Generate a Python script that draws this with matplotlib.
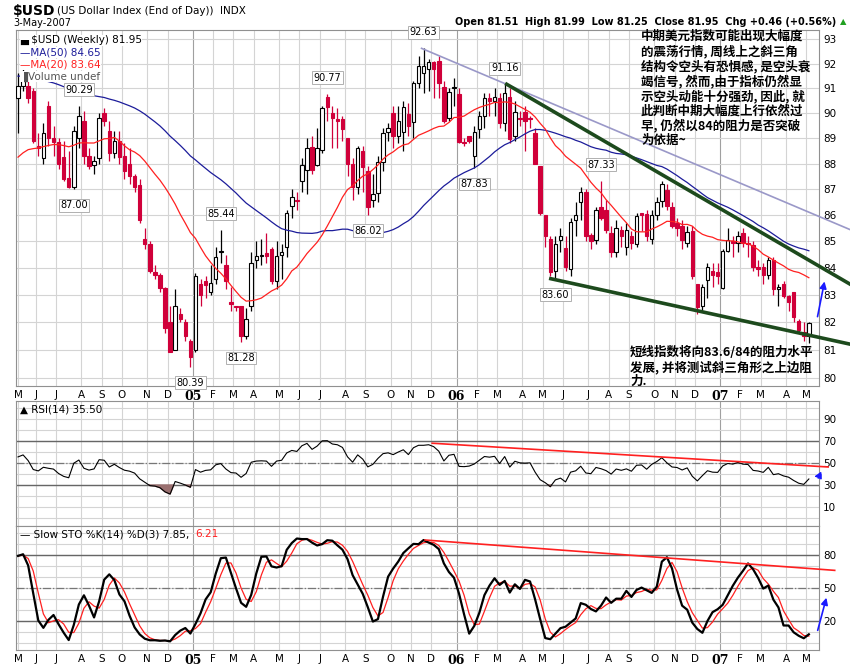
import numpy as np
import pandas as pd
import matplotlib
matplotlib.use("Agg")
import matplotlib.pyplot as plt
from matplotlib.ticker import NullLocator

W, H = 850, 668

# weekly candles, 3 years ending 3-May-2007
dates = pd.date_range(end="2007-05-04", periods=157, freq="W-FRI")

op = [90.6,91.1,91.1,90.9,88.7,88.2,90.3,89.0,88.85,88.25,
      87.45,87.1,89.0,89.7,88.3,87.95,88.2,90.0,89.3,88.4,
      88.9,88.3,88.0,87.5,87.15,85.1,84.9,83.85,83.75,83.25,
      82.0,81.0,82.3,82.0,81.3,81.0,83.4,83.5,83.1,83.6,
      84.6,84.1,82.75,82.6,82.6,81.5,82.6,84.3,84.45,84.55,
      84.7,83.5,84.5,84.8,86.35,86.6,87.3,87.75,88.65,87.95,
      88.55,90.65,90.0,89.75,89.75,89.0,88.0,87.1,88.5,87.7,
      86.6,86.85,88.05,89.25,90.0,89.1,89.25,89.95,89.65,91.2,
      91.6,91.8,92.05,92.1,91.05,89.8,91.0,90.75,88.85,89.1,
      88.3,89.35,89.9,90.6,90.5,90.6,89.6,90.65,89.1,89.8,
      90.05,89.8,89.2,87.9,86.0,85.1,83.9,85.05,84.75,83.95,
      85.8,86.5,86.9,85.25,85.05,86.3,86.2,85.3,84.6,85.45,
      84.8,85.2,84.9,86.1,86.05,85.1,86.0,86.55,86.95,86.3,
      85.7,85.6,84.95,85.4,83.4,82.6,83.55,83.9,83.85,83.25,
      84.65,85.0,84.95,85.3,84.95,84.85,84.05,84.05,83.75,84.3,
      83.2,83.4,82.95,83.1,82.05,81.65,81.51]
cl = [91.1,91.5,90.6,88.9,88.6,89.2,89.0,88.85,88.0,87.4,
      87.1,89.3,89.9,88.3,87.9,88.1,89.8,89.7,88.4,88.9,
      88.25,87.7,87.5,87.1,85.8,84.9,83.9,83.75,83.25,81.8,
      80.9,82.6,82.1,81.5,80.75,83.7,83.0,83.35,83.45,84.4,
      84.65,83.5,82.65,82.55,81.5,82.1,84.2,84.45,84.5,84.45,
      83.5,84.45,84.6,86.1,86.7,86.55,87.95,88.6,87.75,88.6,
      90.2,90.25,89.8,89.7,89.35,88.0,87.1,88.6,87.85,86.3,
      86.8,88.05,89.2,89.4,89.1,89.7,90.25,89.5,91.2,91.9,
      91.9,92.05,91.8,91.2,89.7,90.85,91.05,88.85,88.8,88.9,
      89.25,89.9,90.6,90.5,90.65,89.6,90.8,88.95,90.05,89.75,
      89.7,89.75,88.0,86.1,85.2,83.85,84.9,85.2,84.05,85.75,
      86.0,86.9,85.2,85.0,86.2,85.9,85.45,84.6,85.5,85.2,
      85.45,84.95,85.95,86.0,85.2,86.0,86.5,87.2,86.35,85.6,
      85.5,85.05,85.35,83.7,82.55,83.3,84.05,83.75,83.7,84.65,
      85.05,84.95,85.2,84.95,84.9,84.05,83.95,83.75,84.3,83.2,
      83.3,82.95,82.75,82.2,81.7,81.49,81.95]
hi = [91.6,92.0,91.3,91.0,89.2,89.6,90.5,89.5,89.0,88.9,
      88.5,89.5,90.29,90.1,88.6,88.3,90.0,90.2,89.7,89.3,
      89.3,88.8,88.6,87.6,87.4,85.5,85.0,84.1,83.8,83.3,
      82.6,83.2,82.5,82.1,81.4,83.8,83.6,83.7,84.1,84.8,
      85.44,84.5,83.3,82.6,82.6,82.5,84.6,85.0,85.1,85.3,
      84.8,85.0,84.9,86.2,87.0,86.9,88.2,89.0,89.1,89.4,
      90.3,90.77,90.3,90.2,89.9,89.0,88.2,88.7,88.7,87.9,
      87.6,88.3,89.4,89.6,90.3,90.3,90.5,90.4,91.3,92.3,
      92.63,92.2,92.1,92.3,91.3,91.0,91.4,91.0,89.0,89.1,
      89.5,90.1,90.8,90.8,91.0,90.8,91.16,91.0,90.5,90.1,
      90.3,89.9,89.4,87.9,86.0,85.2,85.2,85.5,85.2,85.9,
      86.5,87.1,87.0,85.3,86.3,87.33,86.6,85.6,85.8,85.6,
      85.7,85.4,86.1,86.1,86.2,86.2,86.7,87.3,87.2,86.5,
      85.9,85.8,85.6,85.6,83.4,83.4,84.2,84.2,84.2,84.7,
      85.5,85.2,85.4,85.5,85.2,85.0,84.3,84.2,84.4,84.4,
      83.4,83.5,83.0,83.1,82.1,82.0,81.99]
lo = [89.2,90.9,90.4,88.8,88.3,88.0,88.7,88.3,87.8,87.3,
      87.05,87.0,88.6,88.0,87.8,87.6,88.0,89.5,88.1,88.2,
      88.0,87.4,87.2,86.9,85.7,84.7,83.8,83.6,83.1,81.6,
      80.9,81.0,82.0,81.3,80.39,80.9,82.6,82.9,83.0,83.4,
      84.2,83.2,82.4,82.4,81.28,81.4,82.4,84.0,84.1,84.2,
      83.4,83.2,83.6,84.4,85.9,86.2,86.9,86.8,87.6,87.9,
      88.4,89.7,88.6,88.6,88.9,87.5,86.6,86.8,86.9,86.02,
      86.3,86.5,87.7,88.9,88.6,88.8,88.5,89.1,89.0,91.0,
      90.8,90.9,90.6,90.6,89.6,89.7,90.3,88.8,88.7,88.8,
      87.83,89.0,89.4,89.9,89.9,89.4,89.3,88.8,88.9,89.5,
      88.5,89.4,88.0,86.0,84.8,83.7,83.6,84.6,83.9,83.7,
      85.2,85.8,85.0,84.7,84.9,85.8,85.3,84.4,84.4,84.8,
      84.5,84.7,84.8,85.4,85.0,84.9,85.8,86.3,86.2,85.5,
      85.2,84.7,84.8,83.6,82.3,82.4,82.9,83.3,83.4,83.2,
      84.6,84.4,84.6,84.8,84.4,83.9,83.7,83.4,83.6,83.0,
      82.6,82.9,82.4,82.0,81.6,81.3,81.25]

# indicator readings at the left edge of the chart (history before the first week)
ma20_start = 88.1
ma50_start = 91.5
rsi_avg_gain_start = 0.40
rsi_avg_loss_start = 0.32

# labelled swing points: (week index, 'H' high / 'L' low)
swings = [(12, 'H'), (11, 'L'), (40, 'H'), (34, 'L'), (44, 'L'), (61, 'H'),
          (69, 'L'), (80, 'H'), (90, 'L'), (96, 'H'), (106, 'L'), (115, 'H')]

# hand-drawn trend lines: ((idx, value), (idx, value))
price_lines = [((79.6, 92.63), (164.1, 85.45), '#9a98c8', 1.2),
               ((96.4, 91.16), (164.1, 83.4), '#1d4a1d', 2.6),
               ((105.1, 83.6), (164.1, 81.2), '#1d4a1d', 2.6)]
rsi_line = ((81.7, 68.0), (159.8, 46.4))
sto_line = ((80.3, 93.6), (161.1, 66.0))
arrow_price = ((157.6, 82.1), (159.2, 83.6))
arrow_rsi = ((157.6, 34.0), (158.8, 45.0))
arrow_sto = ((157.6, 9.0), (159.6, 43.6))

note1 = ("中期美元指数可能出现大幅度\n的震荡行情, 周线上之斜三角\n结构令空头有恐惧感, 是空头衰\n"
         "竭信号, 然而,由于指标仍然显\n示空头动能十分强劲, 因此, 就\n此判断中期大幅度上行依然过\n"
         "早, 仍然以84的阻力是否突破\n为依据~")
note2 = "短线指数将向83.6/84的阻力水平\n发展, 并将测试斜三角形之上边阻\n力."

o, h, l, c = map(np.array, (op, hi, lo, cl))
x = np.arange(len(c))
s = pd.Series(c)


def seeded_ma(n, seed):
    padded = pd.concat([pd.Series([seed] * (n - 1)), s], ignore_index=True)
    return padded.rolling(n).mean().iloc[n - 1:].to_numpy()


ma20 = seeded_ma(20, ma20_start)
ma50 = seeded_ma(50, ma50_start)

ag, al = rsi_avg_gain_start, rsi_avg_loss_start
rsi = [100 - 100 / (1 + ag / al)]
for i in range(1, len(c)):
    dd = c[i] - c[i - 1]
    ag = (ag * 13 + max(dd, 0)) / 14
    al = (al * 13 + max(-dd, 0)) / 14
    rsi.append(100 - 100 / (1 + ag / al))
rsi = np.array(rsi)

hh = pd.Series(h).rolling(14, min_periods=1).max()
ll = pd.Series(l).rolling(14, min_periods=1).min()
fastk = (s - ll) / (hh - ll) * 100
slowk = fastk.rolling(3, min_periods=1).mean()
slowd = slowk.rolling(3, min_periods=1).mean()

fig = plt.figure(figsize=(W / 100, H / 100), dpi=100)
fig.patch.set_facecolor('white')


def rect(left, top, right, bottom):
    return [left / W, 1 - bottom / H, (right - left) / W, (bottom - top) / H]


ax = fig.add_axes(rect(16, 30, 819, 386))
ar = fig.add_axes(rect(16, 401, 819, 525.6), sharex=ax)
ast = fig.add_axes(rect(16, 525.6, 819, 650), sharex=ax)

# month ticks
mpos, mlab, ypos = [], [], []
prev = None
for i, dt in enumerate(dates):
    key = (dt.year, dt.month)
    if key != prev:
        mpos.append(i - 0.5 if i > 0 else 0)
        if dt.month == 1:
            mlab.append("%02d" % (dt.year % 100))
            ypos.append(mpos[-1])
        else:
            mlab.append(dt.strftime('%b')[0])
        prev = key

for a in (ax, ar, ast):
    a.set_xlim(-0.4, 158.0)
    for p in mpos:
        a.axvline(p, color='#a0a0a0' if p in ypos else '#d4d4d4', lw=0.8, zorder=0)
    for sp in a.spines.values():
        sp.set_color('#909090')
    a.tick_params(axis='y', which='both', left=False, right=True, labelleft=False,
                  labelright=True, labelsize=7.5, length=0, pad=3)
    a.tick_params(axis='x', length=0, labelsize=7.5, pad=3)

# price panel
ax.set_yscale('log')
ax.set_ylim(79.7, 93.39)
pt = list(range(80, 94))
ax.set_yticks(pt)
ax.set_yticklabels([str(v) for v in pt])
ax.yaxis.set_minor_locator(NullLocator())
for v in pt:
    ax.axhline(v, color='#d4d4d4', lw=0.8, zorder=0)

red = '#d0003a'
for i in x:
    down = c[i] < o[i]
    col = red if down else 'black'
    ax.vlines(i, l[i], h[i], color=col, lw=0.9, zorder=3)
    lo_b, hi_b = min(o[i], c[i]), max(o[i], c[i])
    if hi_b - lo_b < 0.03:
        hi_b = lo_b + 0.03
    ax.bar(i, hi_b - lo_b, bottom=lo_b, width=0.68, color=red if down else 'white',
           edgecolor=red if down else 'black', lw=0.8, zorder=4)

ax.plot(x, ma50, color='#1c1c9a', lw=0.9, zorder=5)
ax.plot(x, ma20, color='#ff2020', lw=0.9, zorder=5)

for (x0, y0), (x1, y1), col, lw in price_lines:
    ax.plot([x0, x1], [y0, y1], color=col, lw=lw, zorder=6, clip_on=False)
ax.annotate('', xy=arrow_price[1], xytext=arrow_price[0],
            arrowprops=dict(arrowstyle='-|>', color='#1a1aff', lw=1.2), annotation_clip=False)

box = dict(boxstyle='square,pad=0.15', fc='white', ec='#b0b0b0', lw=0.7)
for i, kind in swings:
    if kind == 'H':
        ax.annotate('%.2f' % h[i], xy=(i, h[i]), xytext=(0, 8), textcoords='offset points',
                    ha='center', va='bottom', fontsize=7, bbox=box, zorder=8)
    else:
        ax.annotate('%.2f' % l[i], xy=(i, l[i]), xytext=(0, -8), textcoords='offset points',
                    ha='center', va='top', fontsize=7, bbox=box, zorder=8)

leg = [("\u2584 $USD (Weekly) %.2f" % c[-1], 'black'),
       ("\u2014MA(50) %.2f" % ma50[-1], '#1c1c9a'),
       ("\u2014MA(20) %.2f" % ma20[-1], '#ff2020'),
       ("\u2590Volume undef", '#555555')]
for k, (txt, col) in enumerate(leg):
    ax.text(0.005, 0.985 - k * 0.034, txt, transform=ax.transAxes, fontsize=7.5,
            color=col, va='top', zorder=9,
            bbox=dict(fc='white', ec='none', pad=0.3))

cjk = dict(family='Noto Sans CJK SC', fontweight='bold', fontsize=9, linespacing=1.12,
           va='top', ha='left', zorder=9)
fig.text(641 / W, 1 - 30 / H, note1, **cjk)
fig.text(630 / W, 1 - 346 / H, note2, **cjk)

ax.set_xticks(mpos)
ax.set_xticklabels(mlab)
for t in ax.get_xticklabels():
    if t.get_text().isdigit():
        t.set_fontweight('bold')
        t.set_family('DejaVu Serif')
        t.set_fontsize(9)

# RSI panel
ar.set_ylim(-6.9, 106.4)
ar.set_yticks([10, 30, 50, 70, 90])
for v in range(0, 101, 10):
    ar.axhline(v, color='#d4d4d4', lw=0.8, zorder=0)
ar.axhline(70, color='#666666', lw=1)
ar.axhline(30, color='#666666', lw=1)
ar.axhline(50, color='#777777', lw=0.9, ls='-.')
ar.plot(x, rsi, color='black', lw=0.8, zorder=4)
ar.fill_between(x, rsi, 30, where=rsi < 30, color='#9a7070', interpolate=True, zorder=3)
ar.plot([rsi_line[0][0], rsi_line[1][0]], [rsi_line[0][1], rsi_line[1][1]],
        color='#ff2020', lw=1.2, clip_on=False, zorder=5)
ar.annotate('', xy=arrow_rsi[1], xytext=arrow_rsi[0],
            arrowprops=dict(arrowstyle='-|>', color='#1a1aff', lw=1.1, ls='--'),
            annotation_clip=False)
ar.text(0.005, 0.97, "\u25b2 RSI(14) %.2f" % rsi[-1], transform=ar.transAxes,
        fontsize=7.5, va='top')
plt.setp(ar.get_xticklabels(), visible=False)

# slow stochastic panel
ast.set_ylim(-6.4, 106.7)
ast.set_yticks([20, 50, 80])
for v in range(0, 101, 10):
    ast.axhline(v, color='#d4d4d4', lw=0.8, zorder=0)
ast.axhline(80, color='#666666', lw=1)
ast.axhline(20, color='#666666', lw=1)
ast.axhline(50, color='#777777', lw=0.9, ls='-.')
ast.plot(x, slowd, color='#ff2020', lw=0.9, zorder=4)
ast.plot(x, slowk, color='black', lw=1.6, zorder=5)
ast.plot([sto_line[0][0], sto_line[1][0]], [sto_line[0][1], sto_line[1][1]],
         color='#ff2020', lw=1.2, clip_on=False, zorder=5)
ast.annotate('', xy=arrow_sto[1], xytext=arrow_sto[0],
             arrowprops=dict(arrowstyle='-|>', color='#1a1aff', lw=1.2), annotation_clip=False)
ast.text(0.005, 0.97, "\u2014 Slow STO %%K(14) %%D(3) %.2f," % slowk.iloc[-1],
         transform=ast.transAxes, fontsize=7.5, va='top')
ast.text(0.223, 0.97, "%.2f" % slowd.iloc[-1], transform=ast.transAxes, fontsize=7.5,
         va='top', color='#ff2020')
ast.tick_params(axis='x', labelbottom=True)
for t in ast.get_xticklabels():
    if t.get_text().isdigit():
        t.set_fontweight('bold')
        t.set_family('DejaVu Serif')
        t.set_fontsize(9)

# header
fig.text(13 / W, 1 - 11 / H, "$USD", fontsize=10, fontweight='bold', va='center')
fig.text(57 / W, 1 - 11 / H, "(US Dollar Index (End of Day))  INDX", fontsize=7.5, va='center')
fig.text(13 / W, 1 - 23 / H, "3-May-2007", fontsize=7, va='center')
chg = c[-1] - c[-2]
fig.text(836 / W, 1 - 22 / H,
         "Open %.2f  High %.2f  Low %.2f  Close %.2f  Chg +%.2f (+%.2f%%)"
         % (o[-1], h[-1], l[-1], c[-1], chg, chg / c[-2] * 100),
         fontsize=7, fontweight='bold', va='center', ha='right')
fig.text(843 / W, 1 - 22 / H, "\u25b2", fontsize=6, color='#20a020', va='center', ha='center')

fig.savefig("out.png", dpi=100)
